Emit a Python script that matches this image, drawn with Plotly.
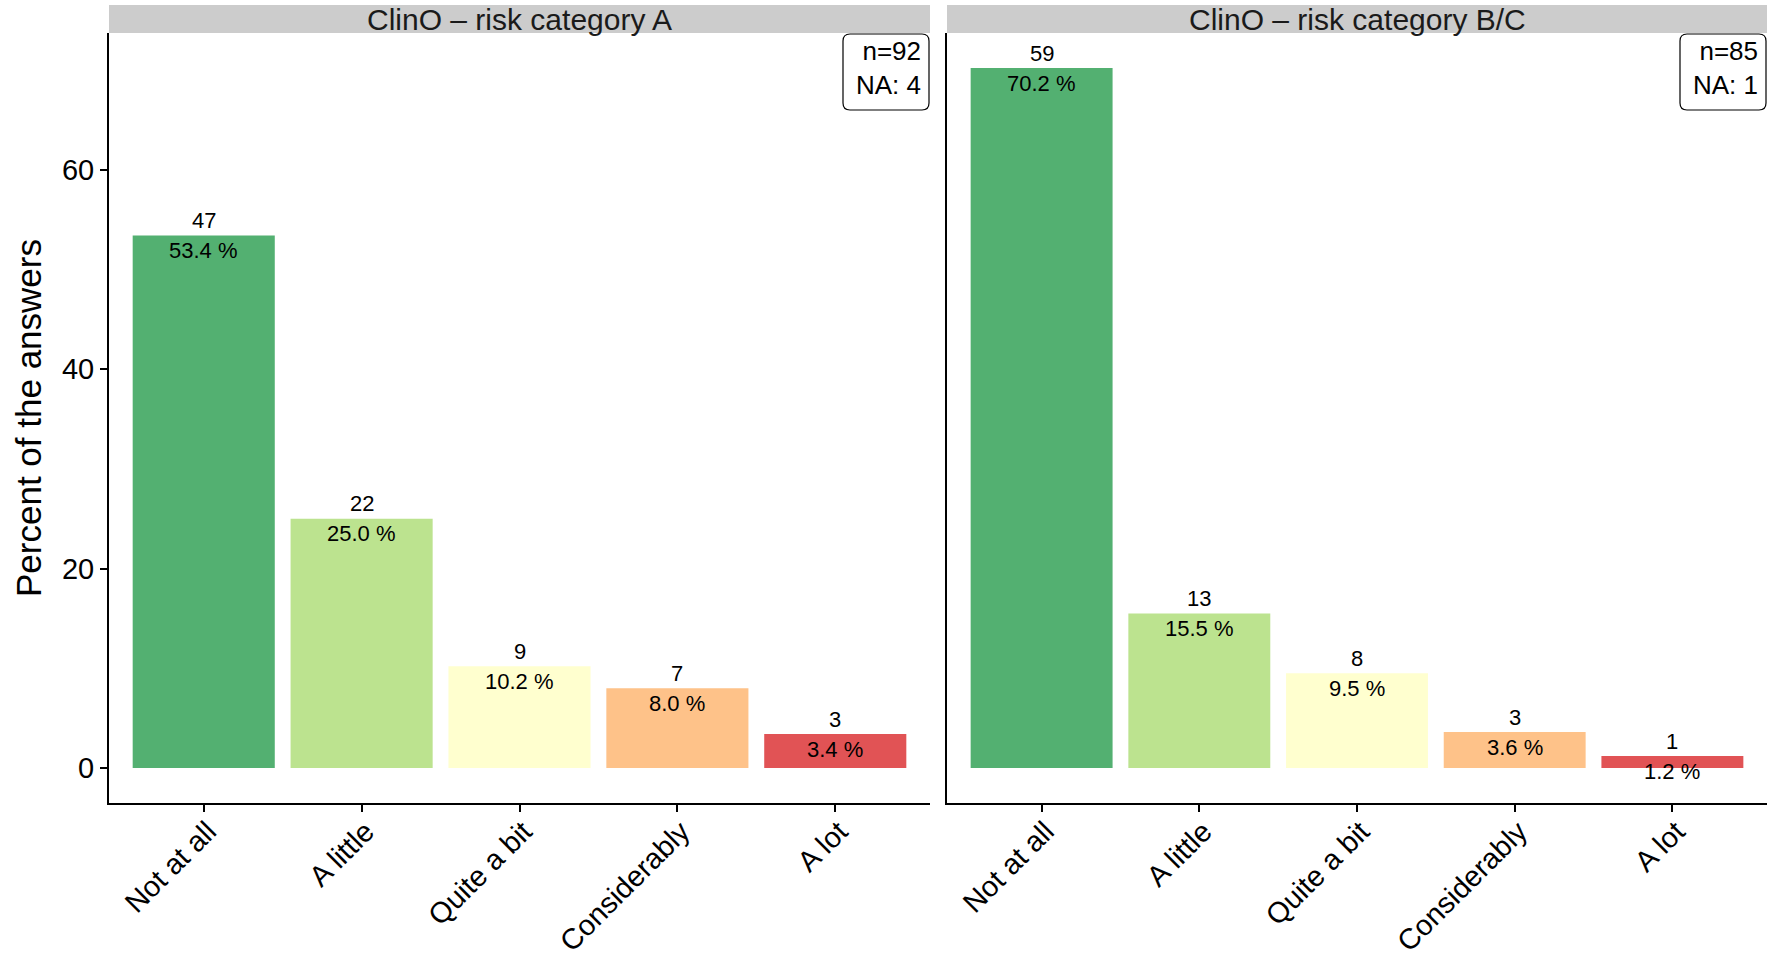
import plotly.graph_objects as go

categories = ["Not at all", "A little", "Quite a bit", "Considerably", "A lot"]
panel_titles = ["ClinO \u2013 risk category A", "ClinO \u2013 risk category B/C"]
counts_A = [47, 22, 9, 7, 3]
pct_A = [53.4, 25.0, 10.2, 8.0, 3.4]
counts_BC = [59, 13, 8, 3, 1]
pct_BC = [70.2, 15.5, 9.5, 3.6, 1.2]
n_values = [92, 85]
na_values = [4, 1]
y_ticks = [0, 20, 40, 60]
palette = ["#1A9641", "#A6D96A", "#FFFFBF", "#FDAE61", "#D7191C"]

FONT = "Liberation Sans, Arial, sans-serif"
W, H = 1767, 959
ml, mr, mt, mb = 109, 0, 5, 156
plot_w = W - ml - mr
plot_h = H - mt - mb
panel1 = (0, (930 - ml) / plot_w)
panel2 = ((947 - ml) / plot_w, 1.0)
ytop = (803 - 33) / plot_h
panel_px_w = [(panel1[1] - panel1[0]) * plot_w, (panel2[1] - panel2[0]) * plot_w]
panel_px_h = ytop * plot_h

ymax = max(max(pct_A), max(pct_BC))
yrange = [-0.05 * ymax, ymax * 1.05]


def rounded_box(wpx, hpx, pw, ph, r=7, inset=1):
    x1 = 1 - inset / pw
    y1 = 1 - inset / ph
    x0 = x1 - wpx / pw
    y0 = y1 - hpx / ph
    rx, ry = r / pw, r / ph
    return (f"M {x0+rx},{y1} L {x1-rx},{y1} Q {x1},{y1} {x1},{y1-ry} "
            f"L {x1},{y0+ry} Q {x1},{y0} {x1-rx},{y0} L {x0+rx},{y0} "
            f"Q {x0},{y0} {x0},{y0+ry} L {x0},{y1-ry} Q {x0},{y1} {x0+rx},{y1} Z"), (y0 + y1) / 2


fig = go.Figure()
panels = [(counts_A, pct_A), (counts_BC, pct_BC)]
for i, (cnts, pcts) in enumerate(panels):
    xa = "x" if i == 0 else "x2"
    ya = "y" if i == 0 else "y2"
    fig.add_trace(go.Bar(
        x=categories, y=pcts, width=0.9,
        marker=dict(color=palette, opacity=0.75, line=dict(width=0)),
        xaxis=xa, yaxis=ya, showlegend=False, hoverinfo="skip",
    ))
    for c, cnt, p in zip(categories, cnts, pcts):
        fig.add_annotation(x=c, y=p, xref=xa, yref=ya, text=str(cnt),
                           showarrow=False, yshift=15, yanchor="middle", xanchor="center",
                           font=dict(family=FONT, size=22, color="black"))
        fig.add_annotation(x=c, y=p, xref=xa, yref=ya, text=f"{p:.1f} %",
                           showarrow=False, yshift=-15, yanchor="middle", xanchor="center",
                           font=dict(family=FONT, size=22, color="black"))
    # n / NA box (rounded)
    path, ymid = rounded_box(86, 76, panel_px_w[i], panel_px_h)
    fig.add_shape(type="path", path=path, xref=f"{xa} domain", yref=f"{ya} domain",
                  line=dict(color="black", width=1.2), fillcolor="white")
    fig.add_annotation(x=1, y=ymid, xref=f"{xa} domain", yref=f"{ya} domain",
                       xanchor="right", yanchor="middle", xshift=-7, yshift=4,
                       showarrow=False, align="right",
                       text=f"n={n_values[i]}<br>NA: {na_values[i]}",
                       font=dict(family=FONT, size=26, color="black"))
    # strip
    dom = panel1 if i == 0 else panel2
    fig.add_shape(type="rect", xref="paper", yref="paper", x0=dom[0], x1=dom[1],
                  y0=ytop, y1=1.0, fillcolor="#CCCCCC", line=dict(width=0), layer="below")
    fig.add_annotation(x=(dom[0] + dom[1]) / 2, y=(ytop + 1.0) / 2, xref="paper", yref="paper",
                       text=panel_titles[i], showarrow=False, yanchor="middle", xanchor="center",
                       font=dict(family=FONT, size=30, color="#1A1A1A"))

axis_common = dict(showline=True, linecolor="black", linewidth=2, ticks="outside",
                   ticklen=7, tickwidth=2, tickcolor="black", showgrid=False, zeroline=False,
                   automargin=False, tickfont=dict(family=FONT, size=29, color="black"))
xaxis_extra = dict(range=[-0.6, 4.6], tickangle=-45, ticklabelstandoff=-9, ticklabelshift=4)

fig.update_layout(
    width=W, height=H, margin=dict(l=ml, r=mr, t=mt, b=mb),
    paper_bgcolor="white", plot_bgcolor="white", bargap=0.1,
    xaxis=dict(domain=list(panel1), anchor="y", **xaxis_extra, **axis_common),
    xaxis2=dict(domain=list(panel2), anchor="y2", **xaxis_extra, **axis_common),
    yaxis=dict(domain=[0, ytop], range=yrange, tickvals=y_ticks, anchor="x",
               title=dict(text="Percent of the answers", font=dict(family=FONT, size=35, color="black"), standoff=10),
               **axis_common),
    yaxis2=dict(domain=[0, ytop], range=yrange, anchor="x2", showline=True, linecolor="black",
                linewidth=2, showticklabels=False, ticks="", showgrid=False, zeroline=False,
                automargin=False),
)

fig.write_html("out.html", config={"displayModeBar": False},
               post_script="document.body.style.margin='0px';document.body.style.overflow='hidden';")
